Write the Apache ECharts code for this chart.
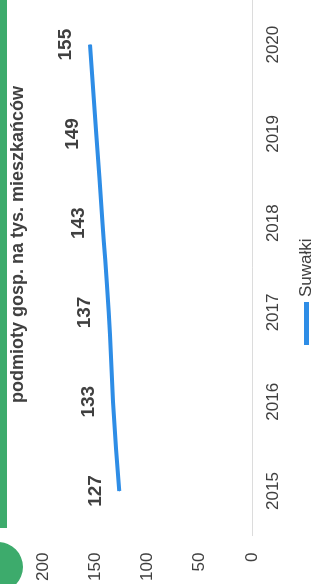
<!DOCTYPE html>
<html>
<head>
<meta charset="utf-8">
<script src="https://cdn.jsdelivr.net/npm/echarts@6/dist/echarts.min.js"></script>
<style>
  html, body { margin: 0; padding: 0; background: #fff; overflow: hidden; }
  /* chart is drawn landscape, then turned on its side like the scan */
  #chart {
    position: absolute;
    left: 0;
    top: 0;
    width: 584px;
    height: 317px;
    transform-origin: 0 0;
    transform: translateY(584px) rotate(-90deg);
  }
</style>
</head>
<body>
<div id="chart"></div>
<script>
var years = ["2015", "2016", "2017", "2018", "2019", "2020"];
var suwalki = [127, 133, 137, 143, 149, 155];
var seriesName = "Suwałki";
var titleText = "podmioty gosp. na tys. mieszkańców";

var textColor = "#404040";
var green = "#3dab6c";
var font = "Liberation Sans";

var chart = echarts.init(document.getElementById("chart"));

var option = {
  backgroundColor: "#fff",
  animation: false,
  title: {
    text: titleText,
    left: 181,
    top: 9,
    padding: 0,
    textStyle: {
      color: textColor,
      fontFamily: font,
      fontSize: 18,
      fontWeight: "bold"
    }
  },
  legend: {
    data: [seriesName],
    left: 239,
    top: 298,
    padding: 0,
    icon: "rect",
    itemWidth: 43,
    itemHeight: 5,
    textStyle: {
      color: textColor,
      fontFamily: font,
      fontSize: 17
    }
  },
  grid: {
    left: 46,
    right: -2,
    top: 43,
    bottom: 65,
    containLabel: false
  },
  xAxis: {
    type: "category",
    data: years,
    boundaryGap: true,
    axisLine: { show: true, lineStyle: { color: "#dcdcdc", width: 1 } },
    axisTick: { show: false },
    axisLabel: {
      color: textColor,
      fontFamily: font,
      fontSize: 17,
      margin: 13
    },
    splitLine: { show: false }
  },
  yAxis: {
    type: "value",
    min: 0,
    max: 200,
    interval: 50,
    axisLine: { show: false },
    axisTick: { show: false },
    axisLabel: {
      color: textColor,
      fontFamily: font,
      fontSize: 17,
      margin: 17
    },
    splitLine: { show: false }
  },
  graphic: [
    {
      type: "rect",
      shape: { x: 56, y: 0, width: 540, height: 7 },
      style: { fill: green }
    },
    {
      type: "circle",
      shape: { cx: 17, cy: -2, r: 25 },
      style: { fill: green }
    }
  ],
  series: [
    {
      name: seriesName,
      type: "line",
      data: suwalki,
      smooth: true,
      symbol: "circle",
      symbolSize: 1,
      showSymbol: true,
      lineStyle: { color: "#2e8de6", width: 4 },
      itemStyle: { color: "#2e8de6" },
      label: {
        show: true,
        position: "top",
        distance: 14,
        color: textColor,
        fontFamily: font,
        fontSize: 19,
        fontWeight: "bold"
      }
    }
  ]
};

chart.setOption(option);
</script>
</body>
</html>
